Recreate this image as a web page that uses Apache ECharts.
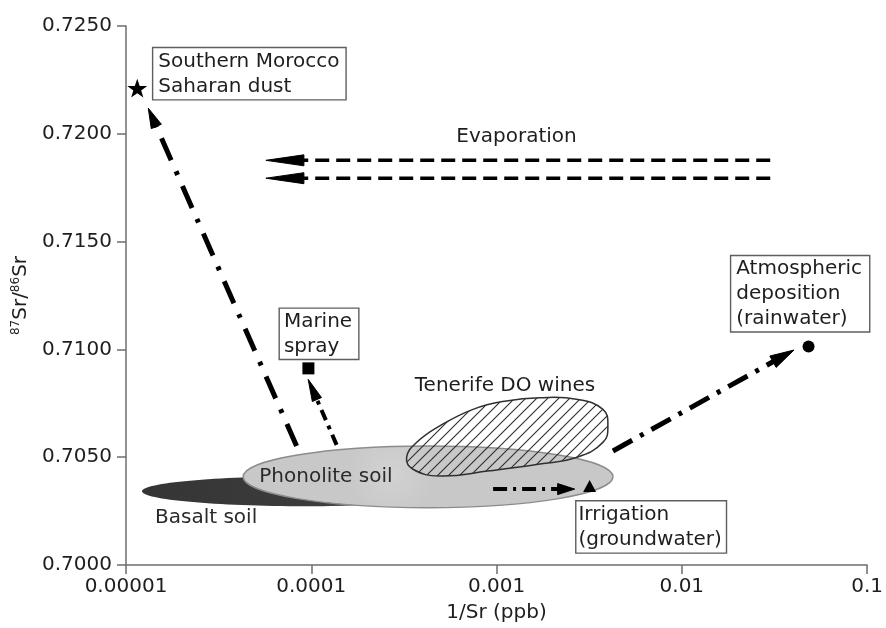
<!DOCTYPE html>
<html><head><meta charset="utf-8">
<script src="https://cdn.jsdelivr.net/npm/echarts@6/dist/echarts.min.js"></script>
<style>html,body{margin:0;padding:0;background:#fff}#c{width:886px;height:628px}</style>
</head><body><div id="c"></div>
<script>
// ---------- data ----------
const xTickLabels = ['0.00001', '0.0001', '0.001', '0.01', '0.1'];

// end-member sources (markers)
const sourceNames = ['Southern Morocco Saharan dust', 'Marine spray', 'Irrigation (groundwater)', 'Atmospheric deposition (rainwater)'];
const sourceX = [1.15e-5, 9.65e-5, 3.18e-3, 0.0483];
const sourceY = [0.72212, 0.70912, 0.70366, 0.71013];

// soil fields (extents)
const soilNames = ['Basalt soil', 'Phonolite soil'];
const soilXMin = [1.22e-5, 4.29e-5];
const soilXMax = [7.17e-4, 4.25e-3];
const soilYMin = [0.70273, 0.70266];
const soilYMax = [0.70412, 0.70552];

// Tenerife DO wines field outline
const wineX = [3.27e-4, 3.70e-4, 4.94e-4, 7.47e-4, 1.13e-3, 1.71e-3, 2.70e-3, 3.75e-3, 3.99e-3, 3.75e-3, 2.70e-3, 1.71e-3, 9.19e-4, 4.94e-4, 3.54e-4];
const wineY = [0.70499, 0.70568, 0.70645, 0.70722, 0.70761, 0.70776, 0.70769, 0.70722, 0.70645, 0.70568, 0.70499, 0.70468, 0.70437, 0.70413, 0.70444];

// process arrows
const arrowNames = ['dust', 'marine', 'irrigation', 'atmospheric', 'evaporation', 'evaporation'];
const arrowFromX = [8.33e-5, 1.37e-4, 9.58e-4, 4.25e-3, 0.0300, 0.0300];
const arrowFromY = [0.70552, 0.70557, 0.70352, 0.70529, 0.71877, 0.71794];
const arrowToX = [1.319e-5, 9.62e-5, 2.64e-3, 0.0403, 5.69e-5, 5.69e-5];
const arrowToY = [0.72119, 0.70861, 0.70352, 0.70997, 0.71877, 0.71794];

// annotation texts and their anchors
const labelTexts = ['Southern Morocco\nSaharan dust', 'Marine\nspray', 'Atmospheric\ndeposition\n(rainwater)', 'Irrigation\n(groundwater)', 'Tenerife DO wines', 'Phonolite soil', 'Basalt soil', 'Evaporation'];
const labelX = [1.404e-5, 6.77e-5, 0.01849, 2.70e-3, 3.62e-4, 5.24e-5, 1.434e-5, 1.281e-3];
const labelY = [0.72397, 0.71188, 0.71432, 0.70295, 0.70830, 0.70409, 0.70218, 0.71988];

// ---------- styles ----------
const FONT = 'DejaVu Sans';
const TXT = '#1e1e1e';
const arrowStyles = [
  {w: 5, dash: [24, 12, 4, 12], hl: 20, hw: 11},
  {w: 4, dash: [11, 6, 4, 6], hl: 22, hw: 10},
  {w: 4, dash: [14, 6, 3, 6], hl: 17, hw: 11},
  {w: 5, dash: [22, 9, 4, 9], hl: 24, hw: 13},
  {w: 3.5, dash: [14, 7], hl: 38, hw: 11},
  {w: 3.5, dash: [14, 7], hl: 38, hw: 11}
];
const labelStyles = [
  {box: true, pad: [1, 6, 0, 5]},
  {box: true, pad: [0, 6, 0, 4]},
  {box: true, pad: [0, 7, 0, 5]},
  {box: true, pad: [1, 4, 0, 2]},
  {box: false, align: 'left'},
  {box: false, align: 'left', fill: '#2a2a2a'},
  {box: false, align: 'left', fill: '#2a2a2a'},
  {box: false, align: 'center'}
];
const symbols = [
  'path://M50,0 L61.8,35.1 L98.1,35.1 L68.8,56.8 L79.4,91 L50,70 L20.6,91 L31.2,56.8 L1.9,35.1 L38.2,35.1 Z',
  'rect', 'triangle', 'circle'
];
const symbolSizes = [20, 12, [13, 12], 12];

// hatch pattern
function hatch() {
  const s = 11;
  const c = document.createElement('canvas');
  c.width = s; c.height = s;
  const g = c.getContext('2d');
  g.strokeStyle = '#2b2b2b';
  g.lineWidth = 1.1;
  for (const o of [-s, 0, s]) {
    g.beginPath();
    g.moveTo(o - 1, s + 1);
    g.lineTo(o + s + 1, -1);
    g.stroke();
  }
  return c;
}
const hatchPattern = {image: hatch(), repeat: 'repeat'};

const chart = echarts.init(document.getElementById('c'), null, {renderer: 'canvas'});

const option = {
  animation: false,
  backgroundColor: '#fff',
  grid: {left: 126, right: 18, top: 26, bottom: 62, containLabel: false},
  xAxis: {
    type: 'log', logBase: 10, min: 1e-5, max: 0.1,
    name: '1/Sr (ppb)', nameLocation: 'middle', nameGap: 38,
    nameTextStyle: {fontFamily: FONT, fontSize: 20, color: TXT},
    axisLine: {lineStyle: {color: '#6e6e6e', width: 1.5}},
    axisTick: {length: 9, lineStyle: {color: '#6e6e6e', width: 1.5}},
    axisLabel: {
      margin: 12, fontFamily: FONT, fontSize: 20, color: TXT,
      formatter: v => xTickLabels[Math.round(Math.log10(v)) + 5] || ''
    },
    splitLine: {show: false}, minorTick: {show: false}
  },
  yAxis: {
    type: 'value', min: 0.7, max: 0.725, interval: 0.005,
    name: '{sup|87}Sr/{sup|86}Sr', nameLocation: 'middle', nameGap: 86, nameRotate: 90,
    nameTextStyle: {
      fontFamily: FONT, fontSize: 20, color: TXT,
      rich: {sup: {fontFamily: FONT, fontSize: 12, color: TXT, verticalAlign: 'top', lineHeight: 22}}
    },
    axisLine: {show: true, lineStyle: {color: '#6e6e6e', width: 1.5}},
    axisTick: {show: true, length: 9, lineStyle: {color: '#6e6e6e', width: 1.5}},
    axisLabel: {margin: 14, fontFamily: FONT, fontSize: 20, color: TXT, formatter: v => v.toFixed(4)},
    splitLine: {show: false}
  },
  series: [
    {
      type: 'custom', name: 'soils', z: 1, silent: true,
      encode: {x: [0, 2], y: [1, 3]},
      data: soilNames.map((n, i) => ({name: n, value: [soilXMin[i], soilYMin[i], soilXMax[i], soilYMax[i]]})),
      renderItem(params, api) {
        const i = params.dataIndex;
        const a = api.coord([api.value(0), api.value(3)]);
        const b = api.coord([api.value(2), api.value(1)]);
        const cx = (a[0] + b[0]) / 2, cy = (a[1] + b[1]) / 2;
        const rx = Math.abs(b[0] - a[0]) / 2, ry = Math.abs(b[1] - a[1]) / 2;
        let fill, stroke, lw;
        if (i === 0) {
          fill = new echarts.graphic.LinearGradient(0, 0, 1, 0, [
            {offset: 0, color: '#353535'}, {offset: 0.56, color: '#3c3c3c'},
            {offset: 0.72, color: '#9a9a9a'}, {offset: 1, color: '#c4c4c4'}
          ]);
          stroke = null; lw = 0;
        } else {
          fill = new echarts.graphic.RadialGradient(0.4, 0.45, 0.7, [
            {offset: 0, color: '#d2d2d2'}, {offset: 1, color: '#c8c8c8'}
          ]);
          stroke = '#8c8c8c'; lw = 1.5;
        }
        return {type: 'ellipse', shape: {cx, cy, rx, ry}, style: {fill, stroke, lineWidth: lw}};
      }
    },
    {
      type: 'custom', name: 'Tenerife DO wines', z: 2, silent: true,
      data: wineX.map((x, i) => [x, wineY[i]]),
      renderItem(params, api) {
        if (params.dataIndex !== 0) return null;
        const pts = wineX.map((x, i) => api.coord([x, wineY[i]]));
        return {
          type: 'polygon', shape: {points: pts, smooth: 0.45},
          style: {fill: hatchPattern, stroke: '#2f2f2f', lineWidth: 1.5}
        };
      }
    },
    {
      type: 'custom', name: 'arrows', z: 3, silent: true,
      encode: {x: [0, 2], y: [1, 3]},
      data: arrowNames.map((n, i) => ({name: n, value: [arrowFromX[i], arrowFromY[i], arrowToX[i], arrowToY[i]]})),
      renderItem(params, api) {
        const st = arrowStyles[params.dataIndex];
        const p0 = api.coord([api.value(0), api.value(1)]);
        const p1 = api.coord([api.value(2), api.value(3)]);
        const dx = p1[0] - p0[0], dy = p1[1] - p0[1];
        const L = Math.sqrt(dx * dx + dy * dy);
        const ux = dx / L, uy = dy / L;
        const bx = p1[0] - ux * st.hl, by = p1[1] - uy * st.hl;
        const nx = -uy, ny = ux;
        return {
          type: 'group',
          children: [
            {type: 'line', shape: {x1: p0[0], y1: p0[1], x2: bx + ux * 2, y2: by + uy * 2},
              style: {stroke: '#000', lineWidth: st.w, lineDash: st.dash, lineCap: 'butt'}},
            {type: 'polygon', shape: {points: [[p1[0], p1[1]], [bx + nx * st.hw / 2, by + ny * st.hw / 2], [bx - nx * st.hw / 2, by - ny * st.hw / 2]]},
              style: {fill: '#000', stroke: '#000', lineWidth: 1}}
          ]
        };
      }
    },
    {
      type: 'scatter', name: 'sources', z: 4, silent: true,
      symbolKeepAspect: true,
      data: sourceNames.map((n, i) => ({
        name: n, value: [sourceX[i], sourceY[i]],
        symbol: symbols[i], symbolSize: symbolSizes[i]
      })),
      itemStyle: {color: '#000', opacity: 1}
    },
    {
      type: 'custom', name: 'labels', z: 5, silent: true,
      data: labelTexts.map((t, i) => ({name: t, value: [labelX[i], labelY[i]]})),
      renderItem(params, api) {
        const i = params.dataIndex;
        const st = labelStyles[i];
        const p = api.coord([api.value(0), api.value(1)]);
        const style = {
          text: labelTexts[i], fontFamily: FONT, fontSize: 20, fill: st.fill || TXT,
          lineHeight: 25
        };
        if (st.box) {
          Object.assign(style, {align: 'left', verticalAlign: 'top', padding: st.pad,
            borderColor: '#5e5e5e', borderWidth: 1.4, backgroundColor: '#fff'});
        } else {
          Object.assign(style, {align: st.align, verticalAlign: 'middle'});
        }
        return {type: 'text', x: p[0], y: p[1], style};
      }
    }
  ]
};
chart.setOption(option);
</script>
</body></html>
